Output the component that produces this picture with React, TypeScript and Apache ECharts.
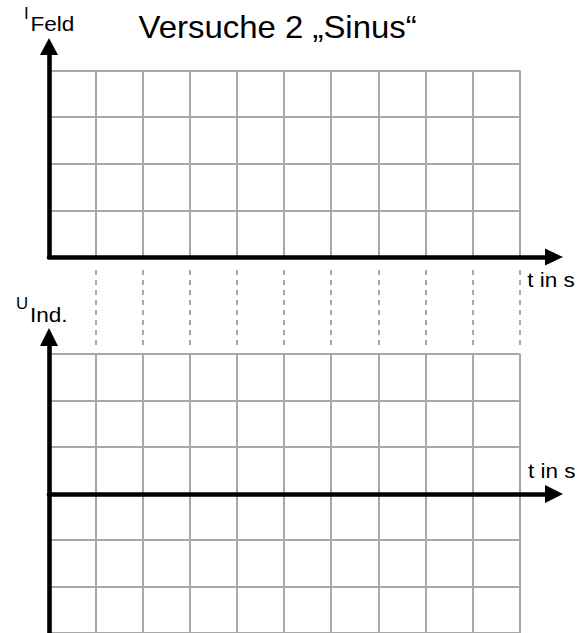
import React, { useEffect, useRef } from "react";
import * as echarts from "echarts";

// Worksheet axes (no measured data – blank grid)
const timeTicks = [0, 1, 2, 3, 4, 5, 6, 7, 8, 9, 10];
const fieldLevels = [0, 1, 2, 3, 4];
const inducedLevels = [-3, -2, -1, 0, 1, 2, 3];
const titleText = "Versuche 2 „Sinus“";
const fieldLabel = ["I", "Feld"];
const inducedLabel = ["U", "Ind."];
const timeLabel = "t in s";

const FONT = '"Liberation Sans", Arial, Helvetica, sans-serif';
const GRID_COLOR = "#a8a8a8";

export default function App() {
  const ref = useRef<HTMLDivElement>(null);

  useEffect(() => {
    if (!ref.current) return;
    const chart = echarts.init(ref.current, undefined, { renderer: "svg" });

    const left = 49;
    const colW = 47.04;
    const cellsW = colW * (timeTicks.length - 1);
    const topRowH = 46.65;
    const botRowH = 46.8;
    const topTop = 70.5;
    const topBottom = topTop + topRowH * (fieldLevels.length - 1);
    const botTop = 353.7;
    const botZeroY = botTop + botRowH * 3;

    const tMin = timeTicks[0];
    const tMax = timeTicks[timeTicks.length - 1];

    const hiddenAxis = {
      show: false,
      type: "value" as const,
      min: 0,
      max: 1,
    };

    const cellX = (gridIndex: number, min: number) => ({
      type: "value" as const,
      gridIndex,
      min,
      max: tMax,
      interval: 1,
      axisLine: { show: false },
      axisTick: { show: false },
      axisLabel: { show: false },
      splitLine: { show: true, lineStyle: { color: GRID_COLOR, width: 2 } },
    });

    const axisStyle = { color: "#000", width: 4.6, cap: "round" as const };

    const text = (
      str: string,
      x: number,
      y: number,
      size: number,
      sx: number
    ) => ({
      type: "text",
      x,
      y,
      scaleX: sx,
      z: 20,
      style: {
        text: str,
        fill: "#000",
        fontSize: size,
        fontFamily: FONT,
        textAlign: "left",
        textVerticalAlign: "middle",
        align: "left",
        verticalAlign: "middle",
      },
    });

    chart.setOption({
      animation: false,
      backgroundColor: "#fff",
      grid: [
        // 0: top cells
        { left, top: topTop, width: cellsW, height: topBottom - topTop },
        // 1: dashed connectors
        { left: left + colW, top: 270, width: cellsW - colW, height: 76 },
        // 2: bottom cells
        { left, top: botTop, width: cellsW, height: botRowH * 6 },
        // 3: top axes (x + y with arrows)
        { left, top: 46.5, width: 505, height: topBottom - 46.5 },
        // 4: bottom x axis with arrow
        { left, top: 337, width: 505, height: botZeroY - 337 },
        // 5: bottom y axis with arrow
        { left, top: 337, width: 505, height: 660 - 337 },
      ],
      xAxis: [
        cellX(0, tMin),
        {
          type: "value",
          gridIndex: 1,
          min: timeTicks[1],
          max: tMax,
          interval: 1,
          axisLine: { show: false },
          axisTick: { show: false },
          axisLabel: { show: false },
          splitLine: {
            show: true,
            lineStyle: { color: GRID_COLOR, width: 2, type: [5, 5] },
          },
        },
        cellX(2, tMin),
        {
          type: "value",
          gridIndex: 3,
          min: 0,
          max: 1,
          z: 10,
          axisLine: {
            show: true,
            onZero: false,
            symbol: ["none", "triangle"],
            symbolSize: [17, 18],
            lineStyle: axisStyle,
          },
          axisTick: { show: false },
          axisLabel: { show: false },
          splitLine: { show: false },
        },
        {
          type: "value",
          gridIndex: 4,
          min: 0,
          max: 1,
          z: 10,
          axisLine: {
            show: true,
            onZero: false,
            symbol: ["none", "triangle"],
            symbolSize: [18, 18],
            lineStyle: axisStyle,
          },
          axisTick: { show: false },
          axisLabel: { show: false },
          splitLine: { show: false },
        },
        { ...hiddenAxis, gridIndex: 5 },
      ],
      yAxis: [
        {
          type: "value",
          gridIndex: 0,
          min: fieldLevels[0],
          max: fieldLevels[fieldLevels.length - 1],
          interval: 1,
          axisLine: { show: false },
          axisTick: { show: false },
          axisLabel: { show: false },
          splitLine: { show: true, lineStyle: { color: GRID_COLOR, width: 2 } },
        },
        { ...hiddenAxis, gridIndex: 1 },
        {
          type: "value",
          gridIndex: 2,
          min: inducedLevels[0],
          max: inducedLevels[inducedLevels.length - 1],
          interval: 1,
          axisLine: { show: false },
          axisTick: { show: false },
          axisLabel: { show: false },
          splitLine: { show: true, lineStyle: { color: GRID_COLOR, width: 2 } },
        },
        {
          type: "value",
          gridIndex: 3,
          min: 0,
          max: 1,
          z: 10,
          axisLine: {
            show: true,
            onZero: false,
            symbol: ["none", "triangle"],
            symbolSize: [18, 17],
            lineStyle: axisStyle,
          },
          axisTick: { show: false },
          axisLabel: { show: false },
          splitLine: { show: false },
        },
        { ...hiddenAxis, gridIndex: 4 },
        {
          type: "value",
          gridIndex: 5,
          min: 0,
          max: 1,
          z: 10,
          axisLine: {
            show: true,
            onZero: false,
            symbol: ["none", "triangle"],
            symbolSize: [18, 18],
            lineStyle: axisStyle,
          },
          axisTick: { show: false },
          axisLabel: { show: false },
          splitLine: { show: false },
        },
      ],
      series: [0, 1, 2, 3, 4, 5].map((i) => ({
        type: "line",
        xAxisIndex: i,
        yAxisIndex: i,
        data: [],
        silent: true,
      })),
      graphic: [
        text(titleText, 138.5, 27, 30.5, 1.08),
        text(fieldLabel[0], 24, 13.6, 16, 1.05),
        text(fieldLabel[1], 30.5, 24.5, 20.5, 1.1),
        text(timeLabel, 527.3, 280.5, 20.5, 1.1),
        text(timeLabel, 528, 471.5, 20.5, 1.1),
        text(inducedLabel[0], 16, 303.6, 16, 1.05),
        text(inducedLabel[1], 30, 315, 20.5, 1.1),
      ],
    });

    return () => chart.dispose();
  }, []);

  return (
    <div
      ref={ref}
      style={{ position: "absolute", left: 0, top: 0, width: 579, height: 633 }}
    />
  );
}
